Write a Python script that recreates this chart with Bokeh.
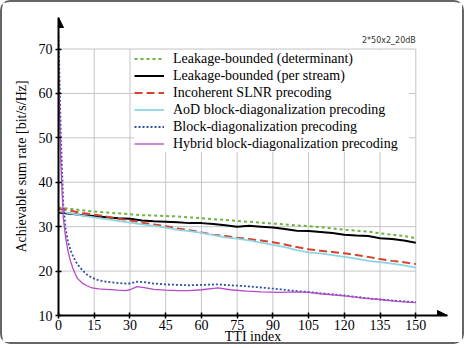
from bokeh.plotting import figure
from bokeh.models import Range1d, FixedTicker, Label, Arrow, NormalHead, Legend, LegendItem
from bokeh.embed import file_html
from bokeh.resources import INLINE

# ---- data ----
x_upper = [0, 5, 10, 15, 20, 25, 30, 35, 40, 45, 50, 55, 60, 65, 70, 75, 80, 85, 90, 95,
           100, 105, 110, 115, 120, 125, 130, 135, 140, 145, 150]
lb_det = [34.3, 34.0, 33.7, 33.4, 33.2, 33.0, 32.8, 32.6, 32.5, 32.4, 32.3, 32.1, 31.9, 31.7, 31.5,
          31.3, 31.1, 30.9, 30.7, 30.5, 30.3, 30.1, 29.9, 29.6, 29.3, 29.1, 28.9, 28.5, 28.2, 27.9, 27.4]
lb_stream = [33.2, 32.9, 32.6, 32.4, 32.1, 31.9, 31.8, 31.4, 31.2, 31.1, 31.0, 30.8, 30.8, 30.6, 30.3,
             30.0, 30.2, 30.0, 29.8, 29.5, 29.1, 29.0, 28.8, 28.6, 28.2, 28.0, 27.9, 27.4, 27.2, 26.9, 26.4]
slnr = [34.0, 33.6, 33.1, 32.7, 32.3, 31.8, 31.4, 30.9, 30.5, 30.1, 29.6, 29.2, 28.7, 28.2, 27.9,
        27.5, 27.2, 26.9, 26.5, 26.0, 25.4, 24.9, 24.6, 24.3, 24.0, 23.6, 23.2, 22.7, 22.3, 22.0, 21.6]
aod_bd = [33.5, 33.0, 32.5, 32.1, 31.7, 31.3, 30.9, 30.5, 30.2, 29.8, 29.3, 29.0, 28.6, 28.1, 27.6,
          27.3, 26.9, 26.4, 25.9, 25.4, 24.7, 24.2, 24.0, 23.6, 23.2, 22.8, 22.3, 22.0, 21.7, 21.3, 20.8]

x_lower = [0, 1, 2, 3, 4, 5, 6, 7, 8, 10, 12, 14, 17, 20, 25, 28, 30, 33, 36, 40, 45, 50, 55, 60,
           67, 72, 79, 85, 93, 100, 105, 110, 120, 128, 135, 142, 150]
bd = [73.0, 50.0, 35.0, 29.5, 26.5, 24.8, 23.5, 22.4, 21.5, 20.2, 19.2, 18.5, 17.9, 17.6, 17.3, 17.2,
      17.2, 17.6, 17.5, 17.2, 17.0, 16.9, 16.8, 16.9, 17.0, 16.8, 16.6, 16.3, 15.9, 15.5, 15.3, 15.0,
      14.5, 14.0, 13.6, 13.3, 13.0]
hybrid_bd = [66.0, 44.0, 32.0, 27.5, 24.5, 22.3, 20.7, 19.4, 18.3, 17.3, 16.7, 16.2, 16.0, 15.9, 15.7,
             15.6, 15.8, 16.5, 16.3, 15.9, 15.7, 15.6, 15.6, 15.8, 16.2, 15.8, 15.5, 15.3, 15.2, 15.3,
             15.2, 14.9, 14.4, 13.9, 13.6, 13.2, 12.9]

x_ticks = [0, 15, 30, 45, 60, 75, 90, 105, 120, 135, 150]
y_ticks = [10, 20, 30, 40, 50, 60, 70]
labels = ["Leakage-bounded (determinant)", "Leakage-bounded (per stream)",
          "Incoherent SLNR precoding", "AoD block-diagonalization precoding",
          "Block-diagonalization precoding", "Hybrid block-diagonalization precoding"]

SERIF = "Liberation Serif"

p = figure(width=464, height=344, output_backend="svg", toolbar_location=None,
           x_range=Range1d(0, 163.3), y_range=Range1d(10, 77.1),
           min_border_left=56, min_border_right=19, min_border_top=15, min_border_bottom=29)
p.styles = {"border": "2px solid #666", "border-radius": "10px"}
p.outline_line_color = None
p.background_fill_color = "white"
p.border_fill_color = "white"
p.xgrid.visible = False
p.ygrid.visible = False

# grid
gx = x_ticks[1:]
p.segment(x0=gx, y0=[y_ticks[0]] * len(gx), x1=gx, y1=[y_ticks[-1]] * len(gx),
          line_color="#c4c4c4", line_width=1)
gy = y_ticks[1:]
p.segment(x0=[x_ticks[0]] * len(gy), y0=gy, x1=[x_ticks[-1]] * len(gy), y1=gy,
          line_color="#c4c4c4", line_width=1)

for ax in (p.xaxis[0], p.yaxis[0]):
    ax.axis_line_width = 2
    ax.axis_line_color = "black"
    ax.major_tick_line_color = "black"
    ax.major_tick_line_width = 1.5
    ax.major_tick_in = 3
    ax.major_tick_out = 3
    ax.minor_tick_line_color = None
    ax.major_label_text_font = SERIF
    ax.major_label_text_font_size = "14px"
    ax.major_label_text_color = "black"
    ax.major_label_standoff = 3
    ax.axis_label_text_font = SERIF
    ax.axis_label_text_font_size = "14px"
    ax.axis_label_text_font_style = "normal"
    ax.axis_label_text_color = "black"
p.xaxis[0].ticker = FixedTicker(ticks=x_ticks)
p.yaxis[0].ticker = FixedTicker(ticks=y_ticks)
p.xaxis[0].major_label_standoff = 1
p.xaxis[0].axis_label = "TTI index"
p.xaxis[0].axis_label_standoff = -4
p.yaxis[0].axis_label = "Achievable sum rate [bit/s/Hz]"
p.yaxis[0].axis_label_standoff = 7

r1 = p.line(x_upper, lb_det, line_color="#6db33f", line_width=2, line_dash="3 3")
r2 = p.line(x_upper, lb_stream, line_color="black", line_width=2)
r3 = p.line(x_upper, slnr, line_color="#d5432d", line_width=2, line_dash="8 4")
r4 = p.line(x_upper, aod_bd, line_color="#8dd5e3", line_width=1.8)
r5 = p.line(x_lower, bd, line_color="#33509e", line_width=1.8, line_dash="2 2")
r6 = p.line(x_lower, hybrid_bd, line_color="#b44ac6", line_width=1.3)

legend = Legend(items=[LegendItem(label=l, renderers=[r]) for l, r in
                       zip(labels, [r1, r2, r3, r4, r5, r6])],
                location=(76, 163), padding=3, spacing=0, margin=0,
                label_height=17, glyph_height=17, glyph_width=30, label_standoff=9,
                label_width=236, label_text_font=SERIF, label_text_font_size="14px",
                label_text_color="black", border_line_color=None,
                background_fill_color="white", background_fill_alpha=1.0)
p.add_layout(legend)

# axis arrowheads
p.add_layout(Arrow(end=NormalHead(size=10, fill_color="black", line_color="black"),
                   line_color=None, x_start=0, y_start=70, x_end=0, y_end=77.1))
p.add_layout(Arrow(end=NormalHead(size=10, fill_color="black", line_color="black"),
                   line_color=None, x_start=150, y_start=10, x_end=163.3, y_end=10))

p.add_layout(Label(x=150, y=71.9, text="2*50x2_20dB", text_align="right",
                   text_baseline="middle", text_font="DejaVu Sans", text_font_size="8px",
                   text_color="#333333"))

open("out.html", "w").write(file_html(p, INLINE))
